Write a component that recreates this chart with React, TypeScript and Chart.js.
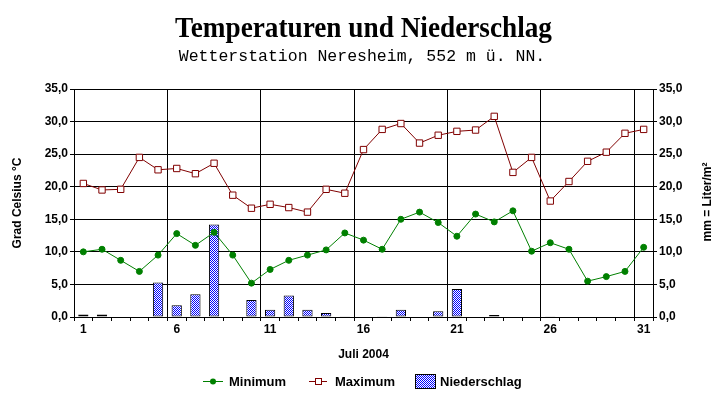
import React, { useEffect, useRef } from 'react';
import { Chart, registerables } from 'chart.js';

Chart.register(...registerables);

const days = ['1','2','3','4','5','6','7','8','9','10','11','12','13','14','15','16','17','18','19','20','21','22','23','24','25','26','27','28','29','30','31'];
const minimum = [10.0,10.4,8.7,7.0,9.5,12.8,11.0,13.0,9.5,5.2,7.3,8.7,9.5,10.3,12.9,11.8,10.4,15.0,16.1,14.5,12.4,15.8,14.6,16.3,10.1,11.4,10.4,5.5,6.2,7.0,10.7];
const maximum = [20.5,19.5,19.6,24.5,22.6,22.8,22.0,23.6,18.7,16.7,17.3,16.8,16.1,19.6,19.0,25.7,28.8,29.7,26.7,27.9,28.5,28.7,30.8,22.2,24.5,17.8,20.8,23.9,25.3,28.2,28.8];
const niederschlag = [0.4,0.4,0,0,5.3,1.8,3.5,14.2,0,2.6,1.1,3.3,1.1,0.6,0.1,0,0.1,1.1,0,0.9,4.3,0,0.3,0,0,0.1,0,0,0,0,0];

const titleText = 'Temperaturen und Niederschlag';
const subtitleText = 'Wetterstation Neresheim, 552 m ü. NN.';
const leftTitle = 'Grad Celsius °C';
const rightTitle = 'mm = Liter/m²';
const xTitle = 'Juli 2004';
const legendLabels = ['Minimum', 'Maximum', 'Niederschlag'];

const GREEN = '#008000';
const RED = '#800000';
const BLUE = '#0000ff';
const SANS = "'Liberation Sans', Arial, sans-serif";

function makePattern(): CanvasPattern | string {
  const c = document.createElement('canvas');
  c.width = 2;
  c.height = 2;
  const g = c.getContext('2d');
  if (!g) return BLUE;
  g.fillStyle = '#ffffff';
  g.fillRect(0, 0, 2, 2);
  g.fillStyle = BLUE;
  g.fillRect(0, 0, 1, 1);
  g.fillRect(1, 1, 1, 1);
  const p = g.createPattern(c, 'repeat');
  return p || BLUE;
}

const fmt = (v: number) => v.toFixed(1).replace('.', ',');

export default function App() {
  const ref = useRef<HTMLCanvasElement | null>(null);

  useEffect(() => {
    const canvas = ref.current;
    if (!canvas) return;
    const pattern = makePattern();

    const extras = {
      id: 'extras',
      afterDraw(chart: any) {
        const ctx = chart.ctx as CanvasRenderingContext2D;
        ctx.save();
        ctx.fillStyle = '#000';
        ctx.textAlign = 'center';
        ctx.textBaseline = 'alphabetic';
        ctx.font = "bold 30px 'Liberation Serif', 'Times New Roman', serif";
        const tw = ctx.measureText(titleText).width;
        const sx = tw > 0 ? 377 / tw : 1;
        ctx.save();
        ctx.translate(363.5, 37);
        ctx.scale(sx, 1);
        ctx.fillText(titleText, 0, 0);
        ctx.restore();
        ctx.font = "16.5px 'Liberation Mono', 'Courier New', monospace";
        ctx.fillText(subtitleText, 362, 61);

        ctx.font = `bold 12px ${SANS}`;
        ctx.textBaseline = 'middle';
        ctx.save();
        ctx.translate(18, 203);
        ctx.rotate(-Math.PI / 2);
        ctx.fillText(leftTitle, 0, 0);
        ctx.restore();
        ctx.save();
        ctx.translate(708, 202);
        ctx.rotate(-Math.PI / 2);
        ctx.fillText(rightTitle, 0, 0);
        ctx.restore();

        ctx.fillText(xTitle, 363.5, 355);

        // legend
        const ly = 381;
        ctx.lineWidth = 1;
        ctx.strokeStyle = GREEN;
        ctx.beginPath();
        ctx.moveTo(203, ly + 0.5);
        ctx.lineTo(223, ly + 0.5);
        ctx.stroke();
        ctx.fillStyle = GREEN;
        ctx.beginPath();
        ctx.arc(213, ly + 0.5, 3, 0, Math.PI * 2);
        ctx.fill();

        ctx.strokeStyle = RED;
        ctx.beginPath();
        ctx.moveTo(309, ly + 0.5);
        ctx.lineTo(327, ly + 0.5);
        ctx.stroke();
        ctx.fillStyle = '#fff';
        ctx.fillRect(315.5, ly - 2.5, 6, 6);
        ctx.strokeRect(315.5, ly - 2.5, 6, 6);

        ctx.fillStyle = pattern as any;
        ctx.fillRect(415, 374, 20, 14);
        ctx.strokeStyle = '#000';
        ctx.strokeRect(415.5, 374.5, 20, 14);

        ctx.fillStyle = '#000';
        ctx.textAlign = 'left';
        ctx.font = `bold 13px ${SANS}`;
        ctx.fillText(legendLabels[0], 229, ly + 1);
        ctx.fillText(legendLabels[1], 335, ly + 1);
        ctx.fillText(legendLabels[2], 440, ly + 1);
        ctx.restore();
      },
    };

    const chart = new Chart(canvas, {
      type: 'bar',
      data: {
        labels: days,
        datasets: [
          {
            type: 'line',
            label: legendLabels[0],
            data: minimum,
            yAxisID: 'y',
            borderColor: GREEN,
            backgroundColor: GREEN,
            borderWidth: 1,
            pointRadius: 3,
            pointBackgroundColor: GREEN,
            pointBorderColor: GREEN,
            pointBorderWidth: 1,
            tension: 0,
            order: 0,
          } as any,
          {
            type: 'line',
            label: legendLabels[1],
            data: maximum,
            yAxisID: 'y',
            borderColor: RED,
            backgroundColor: '#fff',
            borderWidth: 1,
            pointStyle: 'rect',
            pointRadius: 4.5,
            pointBackgroundColor: '#fff',
            pointBorderColor: RED,
            pointBorderWidth: 1,
            tension: 0,
            order: 1,
          } as any,
          {
            type: 'bar',
            label: legendLabels[2],
            data: niederschlag,
            yAxisID: 'y1',
            backgroundColor: pattern as any,
            borderColor: '#000',
            borderWidth: 1,
            borderSkipped: false,
            barPercentage: 0.55,
            categoryPercentage: 1.0,
            order: 2,
          } as any,
        ],
      },
      options: {
        responsive: false,
        devicePixelRatio: 1,
        animation: false,
        layout: { padding: { top: 89, left: 0, right: 0, bottom: 0 } },
        plugins: {
          legend: { display: false },
          tooltip: { enabled: false },
          title: { display: false },
        },
        scales: {
          x: {
            type: 'category',
            offset: true,
            grid: {
              offset: true,
              color: (c: any) => (c.index % 5 === 0 && c.index > 0 && c.index < 31 ? '#000' : 'rgba(0,0,0,0)'),
              tickColor: '#000',
              tickLength: 4,
              lineWidth: 1,
              drawTicks: true,
            },
            border: { display: true, color: '#000', width: 1 },
            ticks: {
              autoSkip: false,
              maxRotation: 0,
              minRotation: 0,
              padding: 1,
              color: '#000',
              font: { family: SANS, size: 12, weight: 'bold' },
              callback: (_v: any, i: number) => (i % 5 === 0 ? days[i] : ''),
            },
            afterFit: (s: any) => { s.height = 87; },
          },
          y: {
            position: 'left',
            min: 0,
            max: 35,
            ticks: {
              stepSize: 5,
              padding: 2,
              color: '#000',
              font: { family: SANS, size: 12, weight: 'bold' },
              callback: (v: any) => fmt(Number(v)),
            },
            grid: { color: '#000', lineWidth: 1, tickLength: 4, drawTicks: true },
            border: { display: true, color: '#000', width: 1 },
            afterFit: (s: any) => { s.width = 74; },
          },
          y1: {
            position: 'right',
            min: 0,
            max: 35,
            ticks: {
              stepSize: 5,
              padding: 2,
              color: '#000',
              font: { family: SANS, size: 12, weight: 'bold' },
              callback: (v: any) => fmt(Number(v)),
            },
            grid: { drawOnChartArea: false, color: '#000', tickLength: 4, drawTicks: true },
            border: { display: true, color: '#000', width: 1 },
            afterFit: (s: any) => { s.width = 74; },
          },
        },
      } as any,
      plugins: [extras],
    });

    return () => chart.destroy();
  }, []);

  return (
    <div style={{ position: 'absolute', left: 0, top: 0, width: 727, height: 404, background: '#fff' }}>
      <canvas ref={ref} width={727} height={404} style={{ display: 'block', width: 727, height: 404 }} />
    </div>
  );
}
